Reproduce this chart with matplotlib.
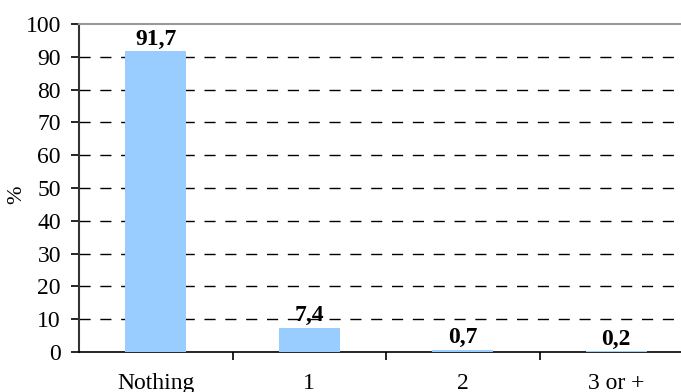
"""Bar chart: share of respondents by count (%)."""

import matplotlib

matplotlib.use("Agg")

import matplotlib.pyplot as plt
import numpy as np

BAR_BLUE = "#99CCFF"
SERIF = ["Liberation Serif", "DejaVu Serif"]

categories = ["Nothing", "1", "2", "3 or +"]
values = [91.7, 7.4, 0.7, 0.2]
value_labels = ["91,7", "7,4", "0,7", "0,2"]
y_ticks = [0, 10, 20, 30, 40, 50, 60, 70, 80, 90, 100]

plt.rcParams["font.family"] = SERIF

fig = plt.figure(figsize=(6.81, 3.92), dpi=100)
ax = fig.add_axes([79 / 681, 40 / 392, 614 / 681, 328 / 392])

x = np.arange(len(categories))
ax.bar(x, values, width=0.4, color=BAR_BLUE, zorder=3)

for xi, v, lab in zip(x, values, value_labels):
    ax.annotate(lab, (xi, v), xytext=(0, 1), textcoords="offset points",
                ha="center", va="bottom", fontsize=17, weight="bold", zorder=4)

ax.set_xlim(-0.5, len(categories) - 0.5)
ax.set_ylim(0, 100)
ax.set_yticks(y_ticks)
ax.set_yticklabels([str(t) for t in y_ticks], fontsize=17)
ax.set_xticks(np.arange(0.5, len(categories) - 0.5, 1.0), minor=False)
ax.set_xticklabels([])
ax.set_xticks(x, minor=True)
ax.set_xticklabels(categories, minor=True, fontsize=17)
ax.tick_params(axis="x", which="minor", length=0, pad=15)
ax.tick_params(axis="x", which="major", length=6, width=1.2, direction="out")
ax.tick_params(axis="y", length=6, width=1.2, direction="out", pad=7)

for t in y_ticks[1:-1]:
    ax.axhline(t, color="black", linewidth=1.0, dashes=(8, 7), zorder=1)

ax.spines["right"].set_visible(False)
ax.spines["top"].set_color("#999999")
ax.spines["top"].set_linewidth(1.5)
ax.spines["left"].set_color("#333333")
ax.spines["left"].set_linewidth(1.5)
ax.spines["bottom"].set_color("black")
ax.spines["bottom"].set_linewidth(1.2)

ax.set_ylabel("%", fontsize=16)
ax.yaxis.set_label_coords(-0.086, 0.48)

fig.savefig("out.png", dpi=100, facecolor="white")
plt.close(fig)
